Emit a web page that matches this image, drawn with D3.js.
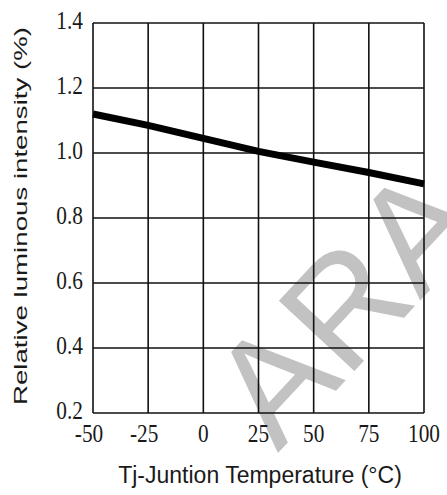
<!DOCTYPE html>
<html>
<head>
<meta charset="utf-8">
<script src="https://cdn.jsdelivr.net/npm/d3@7/dist/d3.min.js"></script>
<style>
  body { margin: 0; background: #fff; }
</style>
</head>
<body>
<div id="chart"></div>
<script>
// values
var temps = [-50, -25, 0, 25, 50, 75, 100];
var intensity = [1.12, 1.085, 1.045, 1.005, 0.972, 0.94, 0.905];
var xTicks = [-50, -25, 0, 25, 50, 75, 100];
var yTicks = [0.2, 0.4, 0.6, 0.8, 1.0, 1.2, 1.4];
var xTitle = "Tj-Juntion Temperature (\u00B0C)";
var yTitle = "Relative luminous intensity (%)";
var watermark = "ARA";

var width = 447, height = 495;
var margin = {top: 23, right: 23, bottom: 82, left: 93};

var x = d3.scaleLinear()
  .domain([-50, 100])
  .range([margin.left, width - margin.right]);

var y = d3.scaleLinear()
  .domain([0.2, 1.4])
  .range([height - margin.bottom, margin.top]);

var svg = d3.select("#chart")
  .append("svg")
  .attr("width", width)
  .attr("height", height);

// grey watermark sits under the grid, it runs off the right edge like the original
svg.append("text")
  .attr("transform", "translate(345,305) rotate(-47)")
  .attr("text-anchor", "middle")
  .attr("dominant-baseline", "central")
  .style("font-family", "Liberation Sans, Arial, sans-serif")
  .style("font-size", "150px")
  .style("fill", "#c2c2c2")
  .text(watermark);

var grid = svg.append("g")
  .attr("stroke", "#111")
  .attr("stroke-width", 1.6);

// vertical grid lines
grid.selectAll("line.v")
  .data(xTicks)
  .enter().append("line")
  .attr("class", "v")
  .attr("x1", function(d) { return x(d); })
  .attr("x2", function(d) { return x(d); })
  .attr("y1", y(1.4))
  .attr("y2", y(0.2));

// horizontal grid lines
grid.selectAll("line.h")
  .data(yTicks)
  .enter().append("line")
  .attr("class", "h")
  .attr("x1", x(-50))
  .attr("x2", x(100))
  .attr("y1", function(d) { return y(d); })
  .attr("y2", function(d) { return y(d); });

// tick labels, a tall condensed serif like the datasheet
var tickFont = "Liberation Serif, Times New Roman, serif";

svg.selectAll("text.ytick")
  .data(yTicks)
  .enter().append("text")
  .attr("class", "ytick")
  .attr("transform", function(d) { return "translate(83," + (y(d) + 6) + ") scale(0.82,1)"; })
  .attr("text-anchor", "end")
  .style("font-family", tickFont)
  .style("font-size", "26px")
  .style("fill", "#1a1a1a")
  .text(function(d) { return d.toFixed(1); });

svg.selectAll("text.xtick")
  .data(xTicks)
  .enter().append("text")
  .attr("class", "xtick")
  .attr("transform", function(d) {
    var shift = d < 0 ? -4 : 0;
    return "translate(" + (x(d) + shift) + ",442) scale(0.82,1)";
  })
  .attr("text-anchor", "middle")
  .style("font-family", tickFont)
  .style("font-size", "26px")
  .style("fill", "#1a1a1a")
  .text(function(d) { return d; });

// the curve
var line = d3.line()
  .x(function(d, i) { return x(temps[i]); })
  .y(function(d) { return y(d); });

svg.append("path")
  .datum(intensity)
  .attr("fill", "none")
  .attr("stroke", "#000")
  .attr("stroke-width", 7)
  .attr("d", line);

// axis titles
svg.append("text")
  .attr("transform", "translate(27,216) rotate(-90)")
  .attr("text-anchor", "middle")
  .attr("textLength", 378)
  .attr("lengthAdjust", "spacingAndGlyphs")
  .style("font-family", "Liberation Sans, Arial, sans-serif")
  .style("font-size", "18px")
  .style("fill", "#1a1a1a")
  .text(yTitle);

svg.append("text")
  .attr("x", 260)
  .attr("y", 483)
  .attr("text-anchor", "middle")
  .style("font-family", "Liberation Sans, Arial, sans-serif")
  .style("font-size", "23px")
  .style("fill", "#1a1a1a")
  .text(xTitle);
</script>
</body>
</html>
